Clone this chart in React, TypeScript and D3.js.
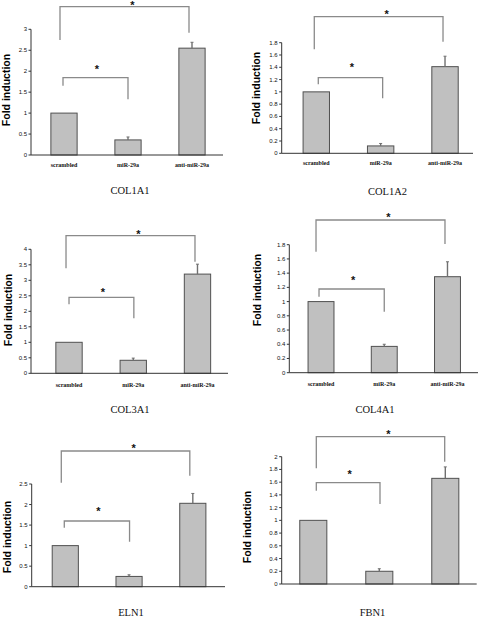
import React from "react";
import * as d3 from "d3";

const categories = ["scrambled", "miR-29a", "anti-miR-29a"];
const genes = ["COL1A1", "COL1A2", "COL3A1", "COL4A1", "ELN1", "FBN1"];
const foldCOL1A1 = [1, 0.36, 2.55];
const errCOL1A1 = [0, 0.07, 0.14];
const foldCOL1A2 = [1, 0.12, 1.41];
const errCOL1A2 = [0, 0.04, 0.17];
const foldCOL3A1 = [1, 0.42, 3.2];
const errCOL3A1 = [0, 0.07, 0.32];
const foldCOL4A1 = [1, 0.37, 1.35];
const errCOL4A1 = [0, 0.03, 0.21];
const foldELN1 = [1, 0.25, 2.03];
const errELN1 = [0, 0.04, 0.24];
const foldFBN1 = [1, 0.2, 1.66];
const errFBN1 = [0, 0.04, 0.18];
const yMaxes = [3, 1.8, 4, 1.8, 2.5, 2];
const tickSteps = [0.5, 0.2, 0.5, 0.2, 0.5, 0.2];
const showCategoryLabels = [true, true, true, true, false, false];
const yLabel = "Fold induction";

const folds = [foldCOL1A1, foldCOL1A2, foldCOL3A1, foldCOL4A1, foldELN1, foldFBN1];
const errs = [errCOL1A1, errCOL1A2, errCOL3A1, errCOL4A1, errELN1, errFBN1];

type Br = { y: number; l: number; r: number; dl: number; dr: number; starY: number };
type Layout = {
  axisX: number; axisEnd: number; yTop: number; y0: number; band: [number, number];
  catY: number; geneX: number; geneY: number; foldX: number; foldY: number; big: Br; small: Br;
};

const layouts: Layout[] = [
  { axisX: 31, axisEnd: 223, yTop: 29.3, y0: 155, band: [32, 224], catY: 165, geneX: 130, geneY: 190.7, foldX: 6, foldY: 90,
    big: { y: 6.7, l: 40, r: 32.7, dl: -4, dr: -3, starY: 3.3 }, small: { y: 77.7, l: 85.7, r: 99.3, dl: -1, dr: 0, starY: 66.7 } },
  { axisX: 281.7, axisEnd: 473, yTop: 42.7, y0: 153.3, band: [284.1, 477.2], catY: 163.3, geneX: 387.5, geneY: 191.7, foldX: 256, foldY: 88,
    big: { y: 16.7, l: 49.3, r: 41.7, dl: -2, dr: -2, starY: 12.3 }, small: { y: 77.7, l: 84.3, r: 98.3, dl: 2, dr: 2, starY: 65 } },
  { axisX: 31, axisEnd: 228, yTop: 249.3, y0: 373.3, band: [36.9, 229.6], catY: 385, geneX: 130, geneY: 409.5, foldX: 8, foldY: 310,
    big: { y: 235.7, l: 268.3, r: 261.7, dl: -3, dr: -2.5, starY: 231.7 }, small: { y: 297.3, l: 304.3, r: 318.3, dl: 0, dr: 0.6, starY: 290 } },
  { axisX: 289.3, axisEnd: 478, yTop: 244.7, y0: 372.7, band: [289.4, 479.1], catY: 384, geneX: 375, geneY: 409.5, foldX: 257, foldY: 290,
    big: { y: 220, l: 251.7, r: 244, dl: -5, dr: -2.5, starY: 215.3 }, small: { y: 289, l: 296.7, r: 311.7, dl: -2, dr: 0, starY: 278.3 } },
  { axisX: 31.7, axisEnd: 225, yTop: 484, y0: 586.7, band: [33.4, 224.7], catY: 597, geneX: 131, geneY: 612.7, foldX: 7, foldY: 537,
    big: { y: 451, l: 482.7, r: 475.7, dl: -4, dr: -3, starY: 446 }, small: { y: 521, l: 527.7, r: 541.7, dl: -1, dr: 0.5, starY: 509.3 } },
  { axisX: 281.7, axisEnd: 476.7, yTop: 456.7, y0: 584, band: [280.3, 478.3], catY: 594, geneX: 372.5, geneY: 612.7, foldX: 247, foldY: 527,
    big: { y: 436.7, l: 468.3, r: 461.7, dl: 3, dr: -0.6, starY: 431.7 }, small: { y: 482.7, l: 490.7, r: 504, dl: 3, dr: 0.7, starY: 471.7 } },
];

const BAR_FILL = "#c0c0c0";
const BAR_STROKE = "#505050";
const AXIS = "#333";
const BRACKET = "#8a8a8a";

function Bracket({ br, xl, xr, bigStar }: { br: Br; xl: number; xr: number; bigStar: boolean }) {
  const x1 = xl + br.dl;
  const x2 = xr + br.dr;
  const mid = (x1 + x2) / 2 + (bigStar ? 8 : 1.5);
  const path = `M${x1},${br.l}V${br.y}H${x2}V${br.r}`;
  return (
    <g>
      <path d={path} fill="none" stroke={BRACKET} strokeWidth={1.3} />
      <text x={mid} y={br.starY + 6} textAnchor="middle" fontFamily="Liberation Sans, Arial, sans-serif" fontWeight="bold" fontSize={11} fill="#111">*</text>
    </g>
  );
}

function Panel({ i }: { i: number }) {
  const L = layouts[i];
  const vals = folds[i];
  const er = errs[i];
  const x = d3.scaleBand<string>().domain(categories).range(L.band).paddingInner(0.59).paddingOuter(0.295);
  const y = d3.scaleLinear().domain([0, yMaxes[i]]).range([L.y0, L.yTop]);
  const ticks = d3.range(0, yMaxes[i] + tickSteps[i] / 2, tickSteps[i]).map((t) => +t.toFixed(2));
  const fmt = (t: number) => (t === 0 ? "0" : String(+t.toFixed(2)));
  const cx = (c: string) => (x(c) as number) + x.bandwidth() / 2;
  return (
    <g>
      {/* bars */}
      {categories.map((c, k) => (
        <rect key={c} x={x(c)} y={y(vals[k])} width={x.bandwidth()} height={L.y0 - y(vals[k])}
          fill={BAR_FILL} stroke={BAR_STROKE} strokeWidth={1} />
      ))}
      {/* error bars */}
      {categories.map((c, k) =>
        er[k] > 0 ? (
          <g key={"e" + c}>
            <line x1={cx(c)} x2={cx(c)} y1={y(vals[k])} y2={y(vals[k] + er[k])} stroke="#707070" strokeWidth={1.4} />
            <line x1={cx(c) - 1.5} x2={cx(c) + 1.5} y1={y(vals[k] + er[k])} y2={y(vals[k] + er[k])} stroke="#707070" strokeWidth={1} />
          </g>
        ) : null
      )}
      {/* axes */}
      <line x1={L.axisX} x2={L.axisX} y1={L.yTop} y2={L.y0} stroke={AXIS} strokeWidth={1} />
      <line x1={L.axisX} x2={L.axisEnd} y1={L.y0} y2={L.y0} stroke={AXIS} strokeWidth={1} />
      {ticks.map((t) => (
        <g key={t}>
          <line x1={L.axisX - 2.5} x2={L.axisX} y1={y(t)} y2={y(t)} stroke={AXIS} strokeWidth={1} />
          <text x={L.axisX - 4} y={y(t) + 2} textAnchor="end" fontFamily="Liberation Sans, Arial, sans-serif" fontSize={6} fill="#111">{fmt(t)}</text>
        </g>
      ))}
      {/* category labels */}
      {showCategoryLabels[i] &&
        categories.map((c) => (
          <text key={"c" + c} x={cx(c)} y={L.catY + 2} textAnchor="middle" fontFamily="Liberation Serif, Times New Roman, serif" fontWeight="bold" fontSize={6} fill="#111">{c}</text>
        ))}
      {/* y label */}
      <text transform={`translate(${L.foldX},${L.foldY}) rotate(-90)`} textAnchor="middle" dominantBaseline="central"
        fontFamily="Liberation Sans, Arial, sans-serif" fontWeight="bold" fontSize={10.5} fill="#000">{yLabel}</text>
      {/* gene label */}
      <text x={L.geneX} y={L.geneY + 3.5} textAnchor="middle" fontFamily="Liberation Serif, Times New Roman, serif" fontSize={10.5} fill="#111">{genes[i]}</text>
      {/* brackets */}
      <Bracket br={L.big} xl={cx(categories[0])} xr={cx(categories[2])} bigStar={true} />
      <Bracket br={L.small} xl={cx(categories[0])} xr={cx(categories[1])} bigStar={false} />
    </g>
  );
}

export default function App() {
  return (
    <svg width={480} height={617} style={{ position: "absolute", left: 0, top: 0, background: "#fff" }}>
      <rect x={0} y={0} width={480} height={617} fill="#fff" />
      {genes.map((g, i) => (
        <Panel key={g} i={i} />
      ))}
    </svg>
  );
}
